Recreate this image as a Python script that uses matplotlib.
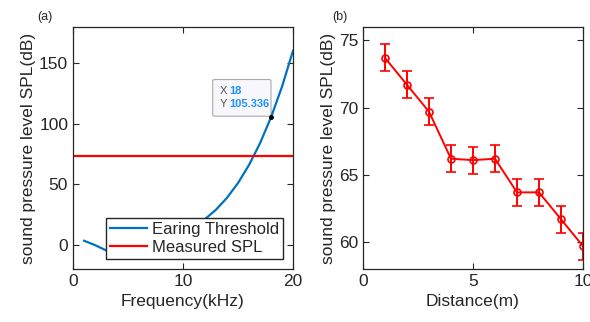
import matplotlib.pyplot as plt
import numpy as np
from matplotlib.patches import FancyBboxPatch

plt.rcParams['font.family'] = ['Liberation Sans', 'DejaVu Sans']

# (a) hearing threshold vs frequency
freq = [1, 2, 3, 4, 5, 6, 7, 8, 9, 10, 11, 12, 13, 14, 15, 16, 17, 18, 19, 20]
thresh = [3.37, -0.25, -4.57, -3.38, 0.48, 2.09, 3.17, 4.79, 7.19, 10.58,
          15.17, 21.23, 29.03, 38.86, 51.05, 65.93, 83.90, 105.336, 130.66, 160.33]
measured = 73.7
tip_x, tip_y = 18, 105.336

# (b) SPL vs distance
dist = [1, 2, 3, 4, 5, 6, 7, 8, 9, 10]
spl = [73.7, 71.7, 69.7, 66.2, 66.1, 66.2, 63.7, 63.7, 61.7, 59.7]
err = [1, 1, 1, 1, 1, 1, 1, 1, 1, 1]

gray = '#262626'
blue = '#0072BD'

fig = plt.figure(figsize=(5.9, 3.22), dpi=100)
ax1 = fig.add_axes([73/590, 1-269/322, 220/590, 242/322])
ax2 = fig.add_axes([363/590, 1-269/322, 220/590, 242/322])

for ax in (ax1, ax2):
    ax.tick_params(direction='in', top=True, right=True, labelsize=12.5,
                   colors=gray, length=4, width=0.8)
    for s in ax.spines.values():
        s.set_color(gray)
        s.set_linewidth(0.9)

# left panel
ax1.plot(freq, thresh, color=blue, lw=1.6, label='Earing Threshold')
ax1.axhline(measured, color='red', lw=1.6, label='Measured SPL')
ax1.plot([tip_x], [tip_y], 'o', color='black', ms=2.5, zorder=5)
ax1.set_xlim(0, 20)
ax1.set_ylim(-20, 180)
ax1.set_xticks([0, 10, 20])
ax1.set_yticks([0, 50, 100, 150])
ax1.set_xlabel('Frequency(kHz)', fontsize=12.5, color=gray)
ax1.set_ylabel('sound pressure level SPL(dB)', fontsize=12.5, color=gray, labelpad=2)
leg = ax1.legend(loc='lower right', fontsize=12, frameon=True, fancybox=False,
                 handlelength=2.2, borderpad=0.25, labelspacing=0.15,
                 handletextpad=0.3, borderaxespad=0.6)
leg.get_frame().set_edgecolor(gray)
leg.get_frame().set_linewidth(1.0)
leg.get_frame().set_alpha(1)
for t in leg.get_texts():
    t.set_color(gray)

# data tip
ax1.text(13.3, 127.5, 'X', fontsize=8, color='#555555', va='center')
ax1.text(14.2, 127.5, '18', fontsize=8, color='#1E90FF', fontweight='bold', va='center')
ax1.text(13.3, 116, 'Y', fontsize=8, color='#555555', va='center')
ax1.text(14.2, 116, '105.336', fontsize=8, color='#1E90FF', fontweight='bold', va='center')
box = FancyBboxPatch((12.7, 106.3), 5.3, 30.3, boxstyle='round,pad=0,rounding_size=0.2',
                     fc='#F8F8FC', ec='#AAAAAA', lw=0.8, zorder=1.5,
                     mutation_aspect=5)
ax1.add_patch(box)

fig.text(45/590, 1-17/322, '(a)', fontsize=9, color=gray, va='center', ha='center')
fig.text(340/590, 1-17/322, '(b)', fontsize=9, color=gray, va='center', ha='center')

# right panel
ax2.errorbar(dist, spl, yerr=err, color='red', lw=1.4, marker='o', ms=5,
             mfc='none', mew=1.2, capsize=3.5, elinewidth=1.4, capthick=1.4)
ax2.set_xlim(0, 10)
ax2.set_ylim(58, 76)
ax2.set_xticks([0, 5, 10])
ax2.set_yticks([60, 65, 70, 75])
ax2.set_xlabel('Distance(m)', fontsize=12.5, color=gray)
ax2.set_ylabel('sound pressure level SPL(dB)', fontsize=12.5, color=gray, labelpad=2)

fig.savefig('out.png', dpi=100)
